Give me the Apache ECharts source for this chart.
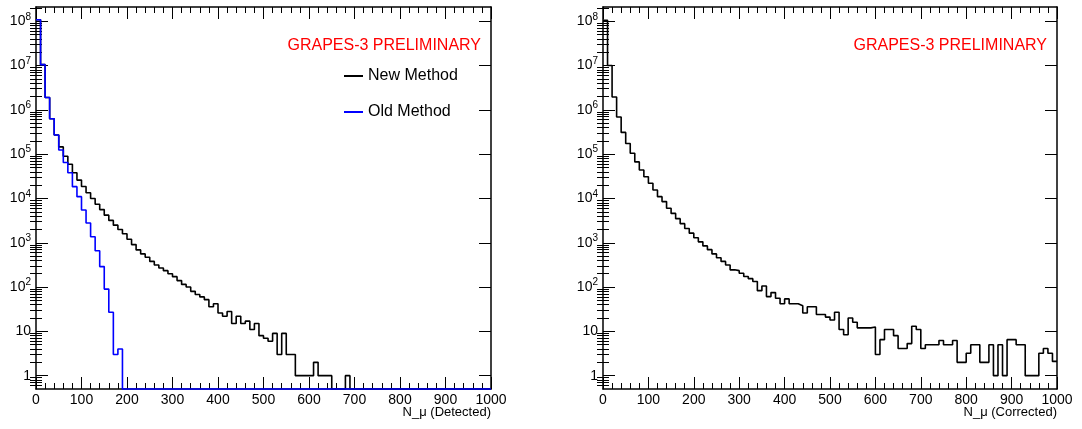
<!DOCTYPE html>
<html>
<head>
<meta charset="utf-8">
<script src="https://cdn.jsdelivr.net/npm/echarts@6/dist/echarts.min.js"></script>
<style>
  html, body { margin: 0; padding: 0; background: #fff; }
  #chart { width: 1082px; height: 429px; }
</style>
</head>
<body>
<div id="chart"></div>
<script>
// ---------------- data (counts per 10-unit bin, 0..1000) ----------------
const BIN_WIDTH = 10;
const X_MIN = 0;
const X_MAX = 1000;
const X_TICKS = [0, 100, 200, 300, 400, 500, 600, 700, 800, 900, 1000];
const Y_MAJOR = [1, 10, 1e2, 1e3, 1e4, 1e5, 1e6, 1e7, 1e8];

// Left panel: "New Method" (black)
const newMethod = [
  1.08e8, 1.05e7, 1.9e6, 6.3e5, 2.7e5, 1.46e5, 9.0e4, 5.9e4, 3.8e4, 2.6e4,
  1.86e4, 1.35e4, 1.0e4, 7400, 5600, 4200, 3200, 2500, 2000, 1600,
  1200, 910, 690, 560, 470, 380, 316, 270, 235, 200,
  172, 140, 115, 100, 80, 68, 60, 52, 36, 42,
  26, 22, 28, 15, 22, 15, 17, 11, 15, 8,
  7, 6, 9, 3, 9, 3, 3, 1, 1, 1,
  1, 2, 1, 1, 1, 0, 0, 0, 1, 0,
  0, 0, 0, 0, 0, 0, 0, 0, 0, 0,
  0, 0, 0, 0, 0, 0, 0, 0, 0, 0,
  0, 0, 0, 0, 0, 0, 0, 0, 0, 0
];

// Left panel: "Old Method" (blue)
const oldMethod = [
  1.08e8, 1.05e7, 1.9e6, 6.3e5, 2.7e5, 1.24e5, 6.5e4, 3.8e4, 1.85e4, 1.1e4,
  5500, 2800, 1370, 660, 290, 90, 27, 3, 4, 0,
  0, 0, 0, 0, 0, 0, 0, 0, 0, 0,
  0, 0, 0, 0, 0, 0, 0, 0, 0, 0,
  0, 0, 0, 0, 0, 0, 0, 0, 0, 0,
  0, 0, 0, 0, 0, 0, 0, 0, 0, 0,
  0, 0, 0, 0, 0, 0, 0, 0, 0, 0,
  0, 0, 0, 0, 0, 0, 0, 0, 0, 0,
  0, 0, 0, 0, 0, 0, 0, 0, 0, 0,
  0, 0, 0, 0, 0, 0, 0, 0, 0, 0
];

// Right panel: corrected (black)
const corrected = [
  1.05e8, 1.0e7, 1.95e6, 6.9e5, 3.1e5, 1.74e5, 1.05e5, 6.7e4, 4.4e4, 3.1e4,
  2.2e4, 1.55e4, 1.1e4, 8500, 6000, 4600, 3500, 2700, 2100, 1650,
  1300, 1050, 850, 700, 560, 460, 380, 316, 245, 235,
  205, 173, 155, 134, 83, 106, 61, 75, 56, 42,
  54, 42, 42, 38, 26, 36, 36, 24, 24, 21,
  18, 27, 11, 8.4, 20, 16, 12, 12, 12, 12.5,
  3, 6.5, 11, 11, 8, 4.1, 4.1, 5.3, 13, 11,
  4.1, 5, 5, 5, 6.2, 5, 5, 6.2, 2, 2,
  3.2, 5, 5, 2, 2, 5, 1, 5, 1, 6.5,
  6.5, 5, 5, 1, 1, 1, 3.2, 4.1, 3.2, 2.1
];

// ---------------- helpers ----------------
const Y_MIN = 0.5;
const Y_MAX = 2.1e8;
const FONT = "'Liberation Sans', Arial, Helvetica, sans-serif";

const Y_MINOR = [];
for (let e = -1; e <= 8; e++) {
  for (let m = 2; m <= 9; m++) {
    const v = m * Math.pow(10, e);
    if (v > Y_MIN && v < Y_MAX) Y_MINOR.push(v);
  }
}

// Histogram outline: step line through bin edges; empty bins sit on the frame bottom (as ROOT draws them)
function histPoints(counts) {
  const pts = counts.map((c, i) => [X_MIN + i * BIN_WIDTH, Math.max(c, Y_MIN)]);
  pts.push([X_MAX, Math.max(counts[counts.length - 1], Y_MIN)]);
  return pts;
}

function yLabel(val) {
  const e = Math.round(Math.log10(val));
  if (e === 0) return '1';
  if (e === 1) return '10';
  return '{b|10}{s|' + e + '}';
}

function xAxes(gridIndex) {
  const common = {
    type: 'value', gridIndex, min: X_MIN, max: X_MAX, interval: 100,
    splitLine: { show: false },
    axisLine: { show: true, onZero: false, lineStyle: { color: '#000', width: 1.5 } },
    axisTick: { show: true, inside: true, length: 12, lineStyle: { color: '#000', width: 1 } },
    minorTick: { show: true, splitNumber: 5, length: 6, lineStyle: { color: '#000', width: 1 } }
  };
  return [
    Object.assign({}, common, {
      position: 'bottom',
      axisLabel: { show: true, margin: 4, color: '#000', fontSize: 14, fontFamily: FONT,
        customValues: X_TICKS, formatter: v => String(v) }
    }),
    Object.assign({}, common, {
      position: 'top',
      axisLabel: { show: false }
    })
  ];
}

function yAxes(gridIndex) {
  const base = {
    type: 'log', logBase: 10, gridIndex, min: Y_MIN, max: Y_MAX,
    splitLine: { show: false }
  };
  const out = [];
  ['left', 'right'].forEach(pos => {
    out.push(Object.assign({}, base, {
      position: pos,
      axisLine: { show: true, onZero: false, lineStyle: { color: '#000', width: 1.5 } },
      axisTick: { show: true, inside: true, length: 12, customValues: Y_MAJOR,
        lineStyle: { color: '#000', width: 1 } },
      axisLabel: pos === 'left' ? {
        show: true, customValues: Y_MAJOR, margin: 5, color: '#000',
        fontSize: 14, fontFamily: FONT, formatter: yLabel,
        rich: {
          b: { fontSize: 14, fontFamily: FONT, color: '#000' },
          s: { fontSize: 10, fontFamily: FONT, color: '#000', padding: [0, 0, 9, 0] }
        }
      } : { show: false }
    }));
    out.push(Object.assign({}, base, {
      position: pos,
      axisLine: { show: false },
      axisTick: { show: true, inside: true, length: 6, customValues: Y_MINOR,
        lineStyle: { color: '#000', width: 1 } },
      axisLabel: { show: false }
    }));
  });
  return out;
}

// ---------------- chart ----------------
const chart = echarts.init(document.getElementById('chart'), null, { renderer: 'canvas' });

const option = {
  animation: false,
  backgroundColor: '#fff',
  grid: [
    { left: 36, top: 7, width: 455, height: 382 },
    { left: 603, top: 7, width: 454, height: 382 }
  ],
  xAxis: [].concat(xAxes(0), xAxes(1)),
  yAxis: [].concat(yAxes(0), yAxes(1)),
  title: [
    { text: 'GRAPES-3 PRELIMINARY', right: 1082 - 481, top: 38, padding: 0,
      textStyle: { color: '#ff0000', fontSize: 16, fontWeight: 'normal', fontFamily: FONT } },
    { text: 'GRAPES-3 PRELIMINARY', right: 1082 - 1047, top: 38, padding: 0,
      textStyle: { color: '#ff0000', fontSize: 16, fontWeight: 'normal', fontFamily: FONT } },
    { text: 'N_μ (Detected)', right: 1082 - 491, top: 406, padding: 0,
      textStyle: { color: '#000', fontSize: 13, fontWeight: 'normal', fontFamily: FONT } },
    { text: 'N_μ (Corrected)', right: 1082 - 1057, top: 406, padding: 0,
      textStyle: { color: '#000', fontSize: 13, fontWeight: 'normal', fontFamily: FONT } }
  ],
  legend: {
    data: ['New Method', 'Old Method'],
    orient: 'vertical', left: 344, top: 66, padding: 0,
    icon: 'rect', itemWidth: 19, itemHeight: 2, itemGap: 16,
    textStyle: { color: '#000', fontSize: 16, fontFamily: FONT, lineHeight: 20 }
  },
  series: [
    {
      name: 'New Method', type: 'line', step: 'end', xAxisIndex: 0, yAxisIndex: 0,
      data: histPoints(newMethod), symbol: 'none', clip: false,
      lineStyle: { color: '#000', width: 1.6 }, itemStyle: { color: '#000' }, z: 3
    },
    {
      name: 'Old Method', type: 'line', step: 'end', xAxisIndex: 0, yAxisIndex: 0,
      data: histPoints(oldMethod), symbol: 'none', clip: false,
      lineStyle: { color: '#0000ff', width: 1.6 }, itemStyle: { color: '#0000ff' }, z: 4
    },
    {
      name: 'Corrected', type: 'line', step: 'end', xAxisIndex: 2, yAxisIndex: 4,
      data: histPoints(corrected), symbol: 'none', clip: false,
      lineStyle: { color: '#000', width: 1.6 }, itemStyle: { color: '#000' }, z: 3
    }
  ]
};

chart.setOption(option);
</script>
</body>
</html>
